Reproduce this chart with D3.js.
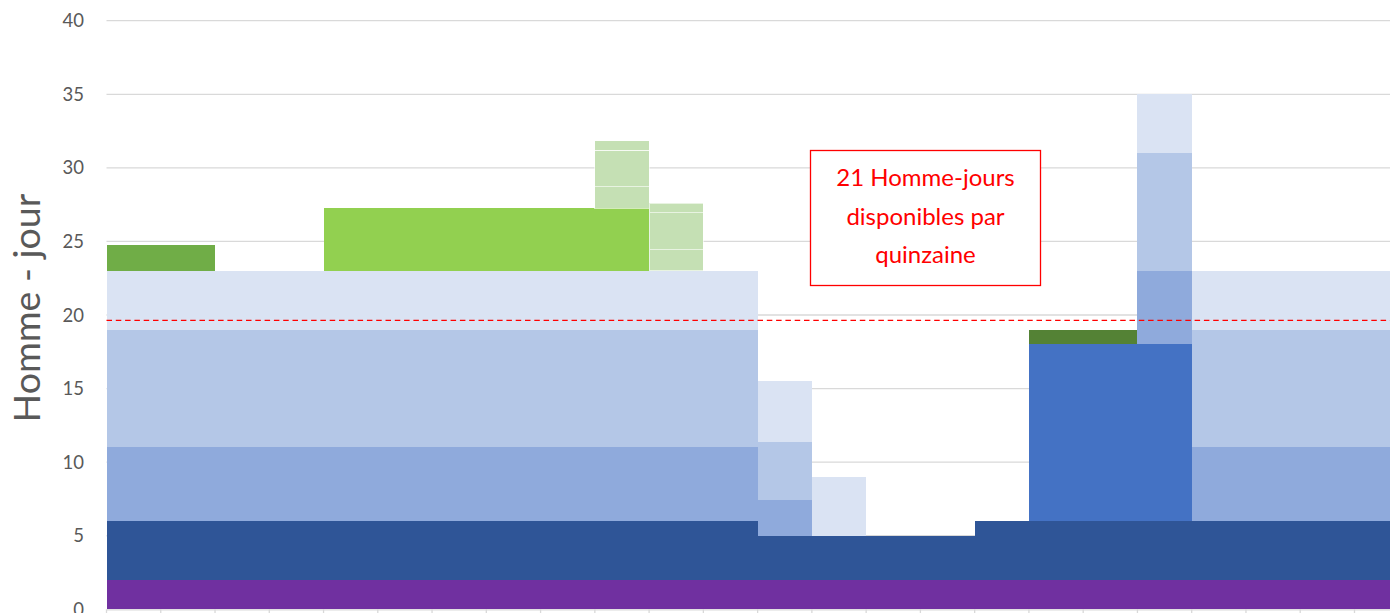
<!DOCTYPE html>
<html><head><meta charset="utf-8">
<script src="https://cdn.jsdelivr.net/npm/d3@7"></script>
<style>html,body{margin:0;padding:0;background:#fff;overflow:hidden}</style>
</head><body>
<svg id="c" width="1390" height="613"></svg>
<script>
// Fortnights (quinzaines) — no visible labels in the chart
const categories = d3.range(1, 25).map(i => "Q" + i);

// Stacked series values (Homme-jours), one per fortnight
const sPurple     = [2,2,2,2,2,2,2,2,2,2,2,2, 2,2,2,2, 2,2,2,2,2,2,2,2];
const sDarkBlue   = [4,4,4,4,4,4,4,4,4,4,4,4, 3,3,3,3, 4,4,4,4,4,4,4,4];
const sBrightBlue = [0,0,0,0,0,0,0,0,0,0,0,0, 0,0,0,0, 0,12,12,12,0,0,0,0];
const sMedBlue    = [5,5,5,5,5,5,5,5,5,5,5,5, 2.4,0,0,0, 0,0,0,5,5,5,5,5];
const sLightBlue  = [8,8,8,8,8,8,8,8,8,8,8,8, 4,0,0,0, 0,0,0,8,8,8,8,8];
const sPaleBlue   = [4,4,4,4,4,4,4,4,4,4,4,4, 4.1,4,0,0, 0,0,0,4,4,4,4,4];
const sGreenA     = [1.75,1.75,0,0,0,0,0,0,0,0,0,0, 0,0,0,0, 0,0,0,0,0,0,0,0];
const sGreenB     = [0,0,0,0,0,0,0,0,0,0,0,0, 0,0,0,0, 0,1,1,0,0,0,0,0];
const sGreenC     = [0,0,0,0,4.25,4.25,4.25,4.25,4.25,4.25,0,0, 0,0,0,0, 0,0,0,0,0,0,0,0];
const sPaleG1     = [0,0,0,0,0,0,0,0,0,1.45,1.45,0, 0,0,0,0, 0,0,0,0,0,0,0,0];
const sPaleG2     = [0,0,0,0,0,0,0,0,0,2.5,2.5,0, 0,0,0,0, 0,0,0,0,0,0,0,0];
const sPaleG3     = [0,0,0,0,0,0,0,0,0,0.65,0.65,0, 0,0,0,0, 0,0,0,0,0,0,0,0];

const seriesNames  = ["purple","darkBlue","brightBlue","medBlue","lightBlue","paleBlue","greenA","greenB","greenC","paleG1","paleG2","paleG3"];
const seriesValues = [sPurple,sDarkBlue,sBrightBlue,sMedBlue,sLightBlue,sPaleBlue,sGreenA,sGreenB,sGreenC,sPaleG1,sPaleG2,sPaleG3];
const seriesColors = ["#7030A0","#2F5597","#4472C4","#8FAADC","#B4C7E7","#DAE3F3","#70AD47","#548235","#92D050","#C5E0B4","#C5E0B4","#C5E0B4"];
const seriesBorder = [0,0,0,0,0,0,0,0,0,1,1,1];

const yTicks = [0,5,10,15,20,25,30,35,40];
const capacityLine = 19.63;
const noteLines = ["21 Homme-jours","disponibles par","quinzaine"];
const yTitle = "Homme - jour";

const svg = d3.select("#c");
const x0 = 106.5, bw = 54.26;
const x = d3.scaleBand().domain(categories).range([x0, x0 + bw * categories.length]).padding(0);
const y = d3.scaleLinear().domain([0, 40]).range([609.3, 20.7]);

const rows = categories.map((c, i) => {
  const r = {cat: c};
  seriesNames.forEach((n, k) => r[n] = seriesValues[k][i]);
  return r;
});
const stack = d3.stack().keys(seriesNames)(rows);

// gridlines
svg.append("g").selectAll("line").data(yTicks.filter(t => t > 0)).join("line")
  .attr("x1", x.range()[0]).attr("x2", x.range()[1])
  .attr("y1", d => y(d)).attr("y2", d => y(d))
  .attr("stroke", "#d9d9d9").attr("stroke-width", 1.3);

// bars
const g = svg.append("g").attr("shape-rendering", "crispEdges");
stack.forEach((layer, k) => {
  const sel = g.append("g").attr("fill", seriesColors[k])
    .selectAll("rect").data(layer.filter(d => d[1] - d[0] > 0)).join("rect")
    .attr("x", d => x(d.data.cat)).attr("width", x.bandwidth())
    .attr("y", d => y(d[1])).attr("height", d => y(d[0]) - y(d[1]));
  if (seriesBorder[k]) sel.attr("stroke", "#ffffff").attr("stroke-opacity", 0.6).attr("stroke-width", 1);
});

// y axis labels
svg.append("g").selectAll("text").data(yTicks).join("text")
  .attr("x", 84).attr("y", d => y(d) + 6.5)
  .attr("text-anchor", "end")
  .attr("font-family", "Lato, 'Open Sans', sans-serif").attr("font-size", 18.5)
  .attr("fill", "#595959").text(d => d);

// x axis
const xa = svg.append("g").attr("transform", `translate(0,${y(0)})`)
  .call(d3.axisBottom(x).tickSize(0).tickFormat(""));
xa.select(".domain").attr("stroke", "#d9d9d9").attr("stroke-width", 1.3);
xa.selectAll(".tick").remove();
xa.selectAll("line.sep").data(d3.range(categories.length + 1)).join("line")
  .attr("class", "sep")
  .attr("x1", i => x0 + i * bw).attr("x2", i => x0 + i * bw)
  .attr("y1", 0).attr("y2", 5)
  .attr("stroke", "#d9d9d9").attr("stroke-width", 1.3);

// capacity dashed line
svg.append("line")
  .attr("x1", x.range()[0]).attr("x2", 1390)
  .attr("y1", y(capacityLine)).attr("y2", y(capacityLine))
  .attr("stroke", "#FF0000").attr("stroke-width", 1.3).attr("stroke-dasharray", "5.5,3.8");

// note box
svg.append("rect").attr("x", 810.5).attr("y", 150.5).attr("width", 230).attr("height", 135)
  .attr("fill", "#fff").attr("stroke", "#FF0000").attr("stroke-width", 1.3);
svg.append("g").selectAll("text").data(noteLines).join("text")
  .attr("x", 925.5).attr("y", (d, i) => 186 + i * 38.5)
  .attr("text-anchor", "middle")
  .attr("font-family", "Lato, 'Open Sans', sans-serif").attr("font-size", 24)
  .attr("fill", "#FF0000").text(d => d);

// y title
svg.append("text")
  .attr("transform", "translate(40,308) rotate(-90)")
  .attr("text-anchor", "middle")
  .attr("font-family", "Lato, 'Open Sans', sans-serif").attr("font-size", 37.5)
  .attr("fill", "#595959").text(yTitle);
</script>
</body></html>
